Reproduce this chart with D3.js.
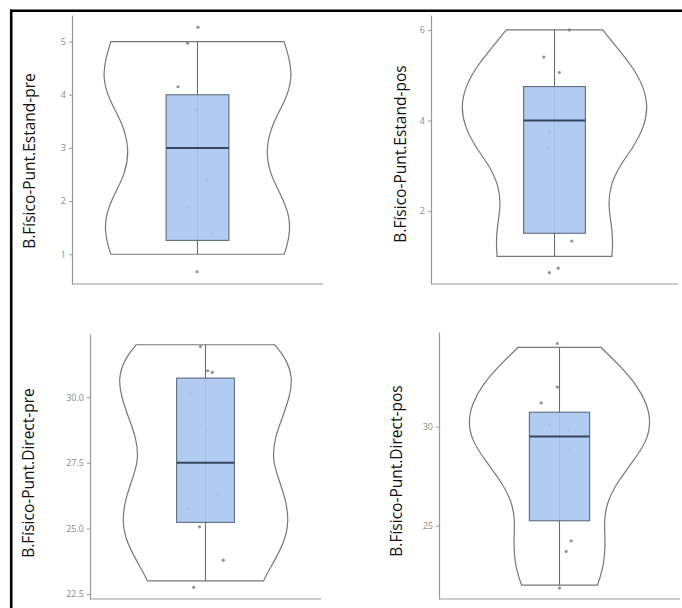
<!DOCTYPE html>
<html>
<head>
<meta charset="utf-8">
<script src="https://cdn.jsdelivr.net/npm/d3@7"></script>
<style>
  body { margin: 0; background: #fff; }
  svg { display: block; }
</style>
</head>
<body>
<svg id="chart" width="682" height="608"></svg>
<script>
// one entry per panel: top-left, top-right, bottom-left, bottom-right
const titles = ['B.Físico-Punt.Estand-pre', 'B.Físico-Punt.Estand-pos',
                'B.Físico-Punt.Direct-pre', 'B.Físico-Punt.Direct-pos'];
const yDomains = [[0.44, 5.5], [0.39, 6.33], [22.31, 32.41], [21.3, 34.78]];
const yTicks = [[1, 2, 3, 4, 5], [2, 4, 6], [22.5, 25, 27.5, 30], [25, 30]];
const tickFormats = ['d', 'd', '.1f', 'd'];

// box stats
const whiskerLow = [1, 1, 23, 22];
const q1 = [1.26, 1.51, 25.23, 25.25];
const medians = [3, 4, 27.5, 29.5];
const q3 = [4, 4.75, 30.73, 30.73];
const whiskerHigh = [5, 6, 32, 34];

// jittered points
const pointValues = [
    [5.27, 4.97, 4.15, 3.72, 2.4, 1.89, 1.4, 0.67],
    [6.0, 5.4, 5.06, 3.74, 3.39, 1.34, 0.74, 0.64],
    [31.93, 31.01, 30.95, 30.15, 28.7, 26.29, 25.75, 25.06, 23.79, 22.75],
    [34.2, 32.0, 31.2, 30.1, 29.8, 28.9, 24.24, 23.7, 21.85]
];
const pointJitter = [
    [0.002, -0.047, -0.093, -0.012, 0.044, -0.041, 0.074, -0.002],
    [0.072, -0.052, 0.023, -0.025, -0.032, 0.084, 0.018, -0.025],
    [-0.026, 0.012, 0.035, -0.081, 0.005, 0.064, -0.092, -0.031, 0.092, -0.061],
    [-0.011, -0.011, -0.091, -0.05, 0.045, 0.043, 0.058, 0.033, 0]
];

// violin outlines (value, relative density)
const violinValues = [
    [1.0, 1.15, 1.4, 1.72, 2.15, 2.5, 3.0, 3.52, 3.9, 4.34, 4.72, 5.0],
    [1.0, 1.28, 1.65, 2.1, 2.55, 3.0, 3.43, 3.87, 4.32, 4.76, 5.2, 5.7, 6.0],
    [23.0, 23.4, 23.9, 24.67, 25.3, 26.05, 26.84, 27.6, 28.47, 29.24, 30.0, 30.76, 31.53, 32.0],
    [22.0, 22.4, 23.06, 24.07, 25.25, 26.26, 27.27, 28.28, 29.3, 30.22, 31.14, 32.15, 33.16, 34.0]
];
const violinDensity = [
    [0.92, 0.95, 0.98, 0.98, 0.88, 0.77, 0.72, 0.81, 0.94, 1.01, 0.97, 0.92],
    [0.62, 0.63, 0.62, 0.58, 0.60, 0.70, 0.86, 0.97, 1.01, 0.96, 0.84, 0.64, 0.52],
    [0.67, 0.73, 0.82, 0.93, 0.96, 0.93, 0.85, 0.77, 0.80, 0.89, 0.97, 1.01, 0.92, 0.80],
    [0.42, 0.45, 0.49, 0.51, 0.49, 0.53, 0.65, 0.82, 0.97, 1.01, 0.97, 0.85, 0.65, 0.46]
];

const panels = [
    { left: 72, right: 323, top: 15, bottom: 284, titleX: 30, titleY: 161 },
    { left: 431, right: 678, top: 15, bottom: 284, titleX: 401, titleY: 154 },
    { left: 90, right: 321, top: 334, bottom: 599, titleX: 29, titleY: 473 },
    { left: 439, right: 680, top: 332, bottom: 599, titleX: 397, titleY: 471 }
];

const svg = d3.select('#chart');

panels.forEach((p, i) => {
    const x = d3.scaleLinear().domain([0.4, 1.6]).range([p.left, p.right]);
    const y = d3.scaleLinear().domain(yDomains[i]).range([p.bottom, p.top]);
    const g = svg.append('g');

    // violin
    const vdata = violinValues[i].map((v, j) => ({ v: v, d: violinDensity[i][j] }));
    const area = d3.area()
        .y(d => y(d.v))
        .x0(d => x(1 - d.d * 0.45))
        .x1(d => x(1 + d.d * 0.45))
        .curve(d3.curveBasis);
    g.append('path')
        .datum(vdata)
        .attr('d', area)
        .attr('fill', '#fff')
        .attr('stroke', '#777')
        .attr('stroke-width', 1.2);

    // whisker
    g.append('line')
        .attr('x1', x(1)).attr('x2', x(1))
        .attr('y1', y(whiskerLow[i])).attr('y2', y(whiskerHigh[i]))
        .attr('stroke', '#6b6b6b')
        .attr('stroke-width', 1.1);

    // points
    g.selectAll('.pt')
        .data(pointValues[i].map((v, j) => ({ v: v, j: pointJitter[i][j] })))
        .join('circle')
        .attr('class', 'pt')
        .attr('cx', d => x(1 + d.j))
        .attr('cy', d => y(d.v))
        .attr('r', 1.6)
        .attr('fill', '#777')
        .attr('opacity', 0.8);

    // box
    g.append('rect')
        .attr('x', x(0.85))
        .attr('width', x(1.15) - x(0.85))
        .attr('y', y(q3[i]))
        .attr('height', y(q1[i]) - y(q3[i]))
        .attr('fill', 'rgb(170,199,240)')
        .attr('fill-opacity', 0.92)
        .attr('stroke', '#5d6c82')
        .attr('stroke-width', 1.1);

    g.append('line')
        .attr('x1', x(0.85)).attr('x2', x(1.15))
        .attr('y1', y(medians[i])).attr('y2', y(medians[i]))
        .attr('stroke', '#34455e')
        .attr('stroke-width', 2);

    // axes
    const yAxis = d3.axisLeft(y)
        .tickValues(yTicks[i])
        .tickFormat(d3.format(tickFormats[i]))
        .tickSize(3)
        .tickPadding(3)
        .tickSizeOuter(0);
    const yAxisG = g.append('g')
        .attr('transform', `translate(${p.left},0)`)
        .call(yAxis);
    yAxisG.select('.domain').attr('stroke', '#9a9a9a').attr('stroke-width', 1.2);
    yAxisG.selectAll('.tick line').attr('stroke', '#9a9a9a');
    yAxisG.selectAll('.tick text')
        .attr('fill', '#8a8a8a')
        .attr('font-size', 9)
        .attr('font-family', 'Open Sans, sans-serif');

    g.append('line')
        .attr('x1', p.left).attr('x2', p.right)
        .attr('y1', p.bottom).attr('y2', p.bottom)
        .attr('stroke', '#9a9a9a')
        .attr('stroke-width', 1.2);

    g.append('text')
        .attr('transform', `translate(${p.titleX},${p.titleY}) rotate(-90)`)
        .attr('text-anchor', 'middle')
        .attr('dy', '0.35em')
        .attr('font-family', 'Open Sans, sans-serif')
        .attr('font-size', 15.5)
        .attr('fill', '#111')
        .text(titles[i]);
});

// black frame lines on top and left
svg.append('line')
    .attr('x1', 10).attr('x2', 682).attr('y1', 10.8).attr('y2', 10.8)
    .attr('stroke', '#000').attr('stroke-width', 2.6);
svg.append('line')
    .attr('x1', 11.2).attr('x2', 11.2).attr('y1', 9.5).attr('y2', 608)
    .attr('stroke', '#000').attr('stroke-width', 2.6);
</script>
</body>
</html>
